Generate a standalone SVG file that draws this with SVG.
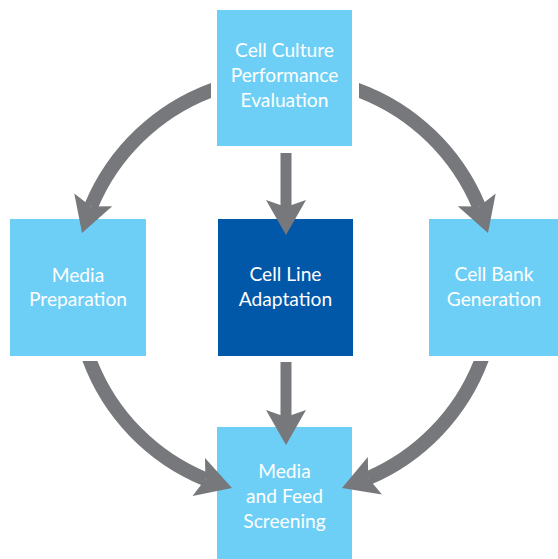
<svg xmlns="http://www.w3.org/2000/svg" width="558" height="559" viewBox="0 0 558 559">
<style>
.light{fill:#6dcff6}
.dark{fill:#0157a8}
.arrow{fill:#77787b}
text{font-family:Lato,"Liberation Sans",sans-serif;font-size:19.2px;fill:#ffffff;text-anchor:middle}
</style>
<rect width="558" height="559" fill="#ffffff"/>
<g id="node-evaluation">
  <rect class="light" x="217" y="10" width="135" height="136"/>
  <text x="284.5" y="57">Cell Culture</text>
  <text x="284.5" y="82">Performance</text>
  <text x="284.5" y="107">Evaluation</text>
</g>
<g id="node-media-prep">
  <rect class="light" x="10" y="219" width="136" height="137"/>
  <text x="78" y="282">Media</text>
  <text x="78" y="306">Preparation</text>
</g>
<g id="node-adaptation">
  <rect class="dark" x="218" y="219" width="135" height="137"/>
  <text x="285.5" y="281">Cell Line</text>
  <text x="285.5" y="306">Adaptation</text>
</g>
<g id="node-cell-bank">
  <rect class="light" x="429" y="219" width="132" height="137"/>
  <text x="494" y="281">Cell Bank</text>
  <text x="494" y="306">Generation</text>
</g>
<g id="node-screening">
  <rect class="light" x="217" y="427" width="135" height="135"/>
  <text x="284.5" y="478">Media</text>
  <text x="284.5" y="503">and Feed</text>
  <text x="284.5" y="528">Screening</text>
</g>
<g id="connectors">
  <g id="arrow-top-left">
    <path class="arrow" d="M211,83 A217,217 0 0 0 84.6,203.8 L97.5,209.2 A203,203 0 0 1 211,98 Z"/>
    <polygon class="arrow" points="82,233 112.2,206.3 91,206.5 74.3,193.4"/>
  </g>
  <g id="arrow-top-right">
    <path class="arrow" d="M359,83 A217,217 0 0 1 485.4,203.8 L472.5,209.2 A203,203 0 0 0 359,98 Z"/>
    <polygon class="arrow" points="488,233 457.8,206.3 479,206.5 495.7,193.4"/>
  </g>
  <g id="arrow-top-center">
    <rect class="arrow" x="280.5" y="153" width="11" height="55"/>
    <polygon class="arrow" points="286,235 266,200 286,207 306,200"/>
  </g>
  <g id="arrow-bottom-left">
    <path class="arrow" d="M82.4,361 A216,216 0 0 0 202.75,485.7 L208.1,472.8 A202,202 0 0 1 97.4,361 Z"/>
    <polygon class="arrow" points="232,488 192.5,496.1 205.4,479.3 205,458.1"/>
  </g>
  <g id="arrow-bottom-right">
    <path class="arrow" d="M488.6,361 A216,216 0 0 1 371,484.6 L365.5,471.7 A202,202 0 0 0 473.6,361 Z"/>
    <polygon class="arrow" points="342,488 381.9,494.4 368.3,478.1 367.8,456.9"/>
  </g>
  <g id="arrow-bottom-center">
    <rect class="arrow" x="280.5" y="362" width="11" height="56"/>
    <polygon class="arrow" points="286,445 266,410 286,417 306,410"/>
  </g>
</g>
</svg>
